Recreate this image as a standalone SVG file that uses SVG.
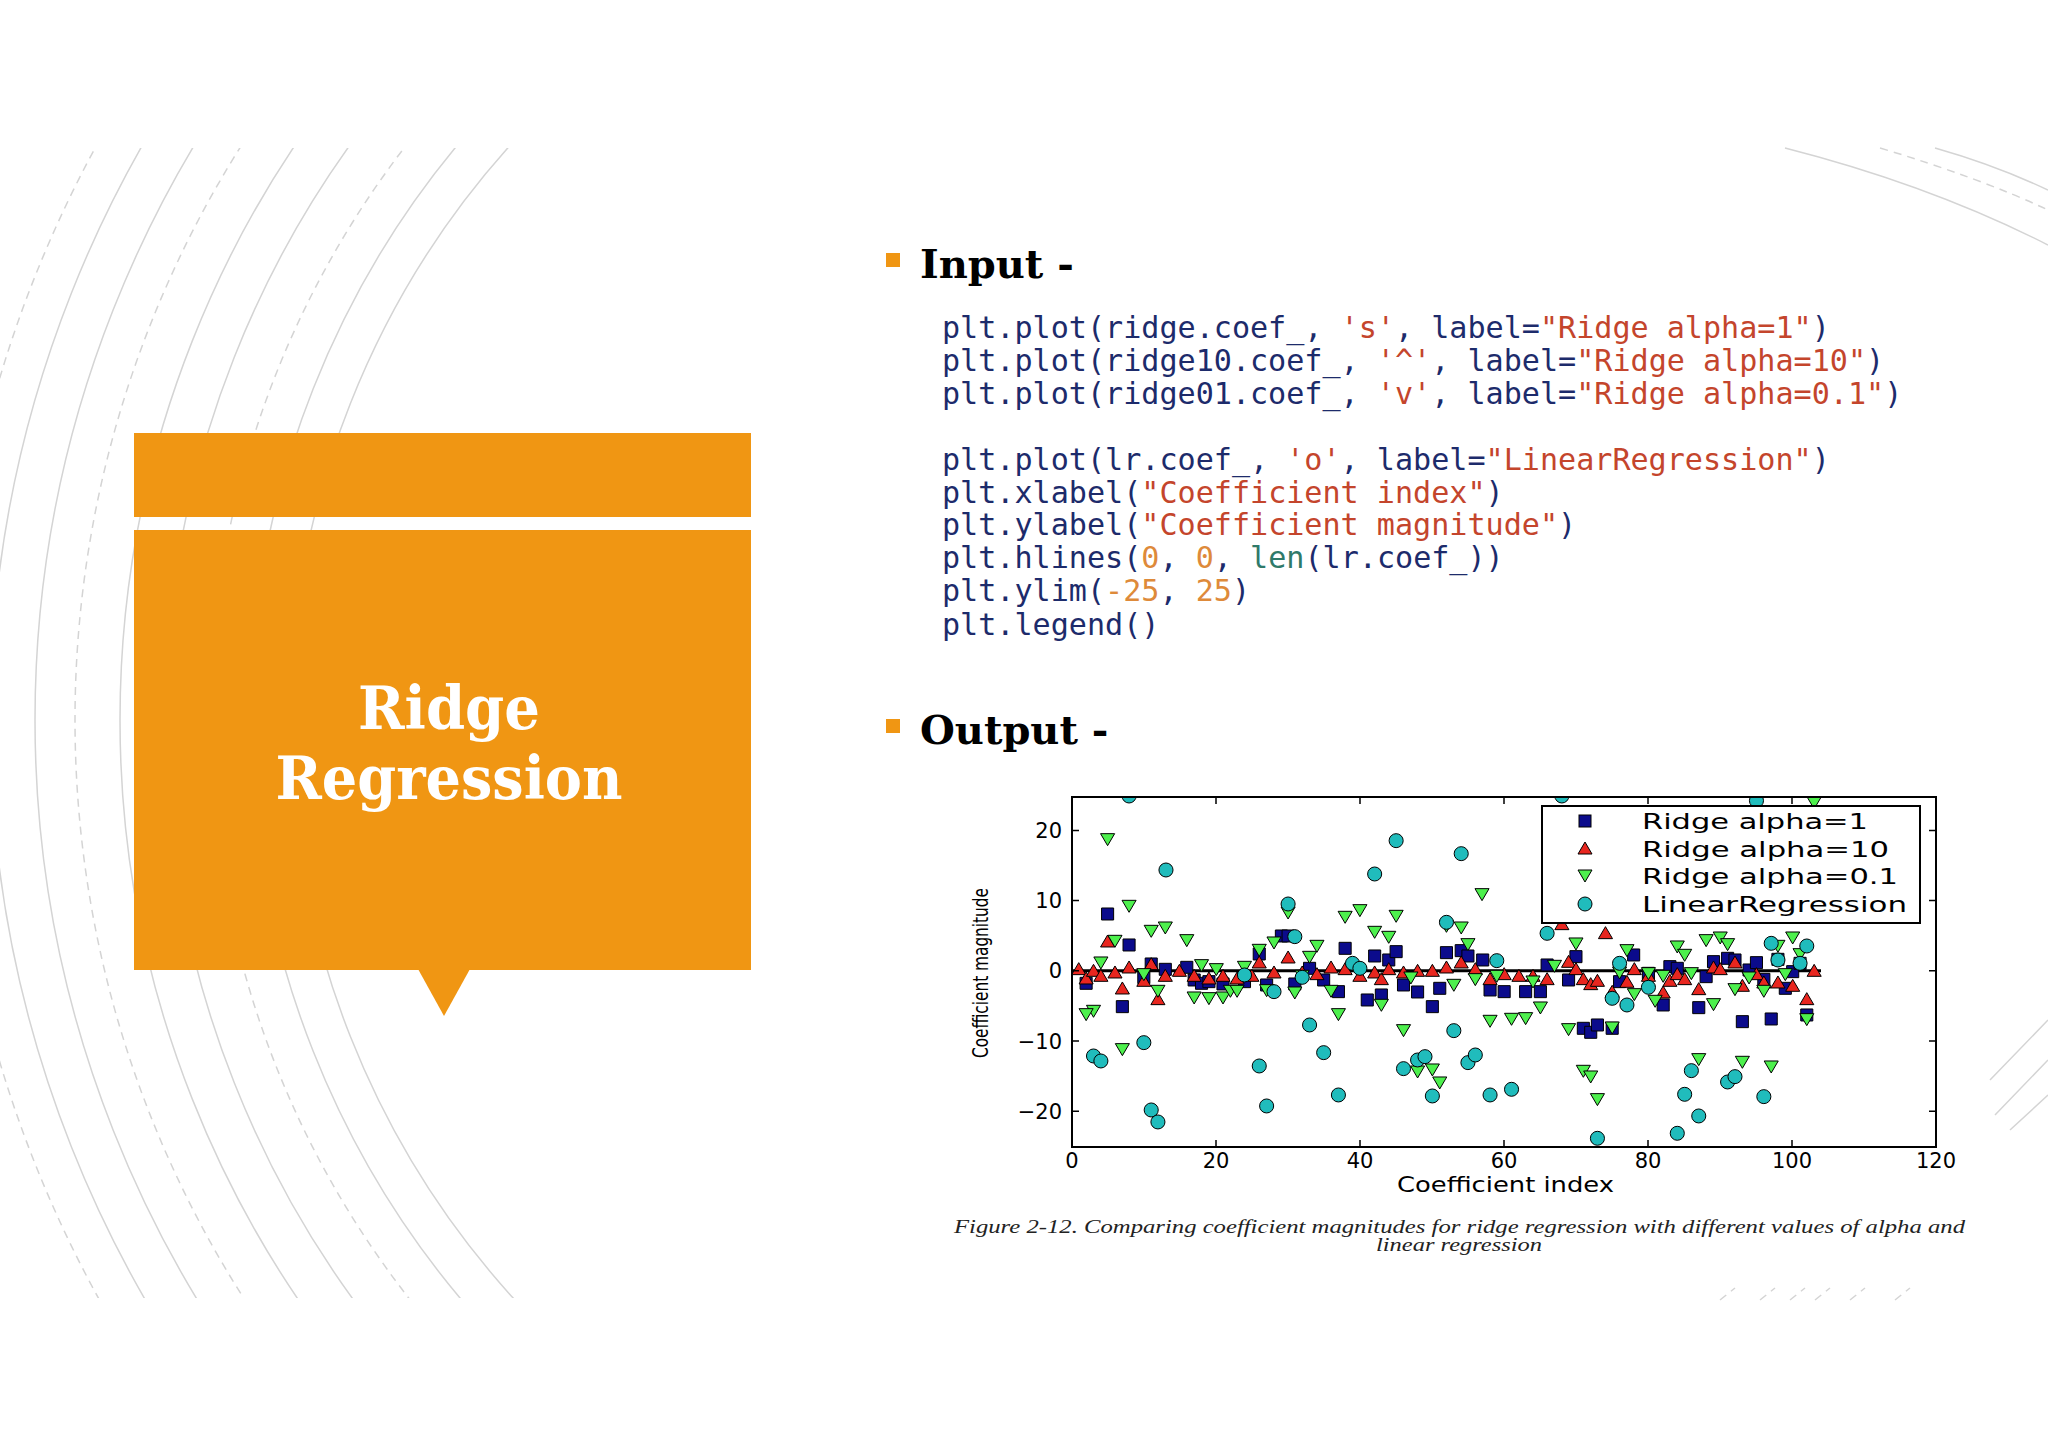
<svg xmlns="http://www.w3.org/2000/svg" xmlns:xlink="http://www.w3.org/1999/xlink" width="2048" height="1448" viewBox="0 0 2048 1448">
<style>
.arc{fill:none;stroke:#d4d4d4;stroke-width:1.5}
.dash{stroke-dasharray:8 6}
.code{font-family:"DejaVu Sans Mono",monospace;font-size:30.1px;fill:#1d2b6b}
.s{fill:#c4452c}.n{fill:#de8a3a}.b{fill:#2f7a6a}
.head{font-family:"DejaVu Serif",serif;font-weight:bold;font-size:40px;fill:#000}
.tick{font-family:"DejaVu Sans",sans-serif;font-size:21px;fill:#000}
.lab{font-family:"DejaVu Sans",sans-serif;font-size:21px;fill:#000}
.mk{vector-effect:non-scaling-stroke;stroke:#000;stroke-width:1}
.sq{fill:#0b0b8c}.up{fill:#e8261f}.dn{fill:#4df04d}.ci{fill:#20bcbc}
</style>
<defs>
<rect id="sq" class="mk sq" x="-9" y="-18" width="18" height="36"/>
<polygon id="up" class="mk up" points="0,-22 10.5,14 -10.5,14"/>
<polygon id="dn" class="mk dn" points="0,22 10.5,-14 -10.5,-14"/>
<ellipse id="ci" class="mk ci" rx="10.5" ry="21"/>
<clipPath id="bgclip"><rect x="0" y="148" width="870" height="1150"/></clipPath>
<clipPath id="plotclip"><rect x="1072" y="797" width="864" height="350"/></clipPath>
</defs>
<rect width="2048" height="1448" fill="#fff"/>
<g id="background" clip-path="url(#bgclip)">
<circle class="arc" cx="1150" cy="720" r="860"/>
<circle class="arc" cx="1150" cy="720" r="900"/>
<circle class="arc dash" cx="1150" cy="720" r="940"/>
<circle class="arc" cx="1150" cy="720" r="985"/>
<circle class="arc" cx="1150" cy="720" r="1030"/>
<circle class="arc dash" cx="1150" cy="720" r="1075"/>
<circle class="arc" cx="1150" cy="720" r="1115"/>
<circle class="arc" cx="1150" cy="720" r="1160"/>
<circle class="arc dash" cx="1150" cy="720" r="1200"/>
</g>
<g id="corner">
<path class="arc" d="M1785 148 Q1930 185 2048 245"/>
<path class="arc dash" d="M1880 148 Q1980 178 2048 210"/>
<path class="arc" d="M1935 148 Q1995 165 2048 190"/>
<path class="arc" d="M1990 1080 L2048 1020 M1995 1115 L2048 1060 M2010 1130 L2048 1095"/>
<path class="arc dash" d="M1720 1300 L1735 1288 M1760 1300 L1775 1288 M1790 1300 L1805 1288 M1815 1300 L1830 1288 M1850 1300 L1865 1288 M1895 1300 L1910 1288"/>
</g>
<g id="title-box">
<rect x="134" y="433" width="617" height="84" fill="#f09613"/>
<rect x="134" y="530" width="617" height="440" fill="#f09613"/>
<polygon points="418,969 470,969 444,1016" fill="#f09613"/>
<text x="449" y="729" text-anchor="middle" font-family="DejaVu Serif,serif" font-weight="bold" font-size="60" fill="#fff" textLength="182" lengthAdjust="spacingAndGlyphs">Ridge</text>
<text x="449" y="799" text-anchor="middle" font-family="DejaVu Serif,serif" font-weight="bold" font-size="60" fill="#fff" textLength="347" lengthAdjust="spacingAndGlyphs">Regression</text>
</g>
<g id="input">
<rect x="886" y="253" width="14" height="14" fill="#f09613"/>
<text class="head" x="920" y="278">Input -</text>
<text class="code" x="942" y="338">plt.plot(ridge.coef_, <tspan class="s">'s'</tspan>, label=<tspan class="s">"Ridge alpha=1"</tspan>)</text>
<text class="code" x="942" y="371">plt.plot(ridge10.coef_, <tspan class="s">'^'</tspan>, label=<tspan class="s">"Ridge alpha=10"</tspan>)</text>
<text class="code" x="942" y="404">plt.plot(ridge01.coef_, <tspan class="s">'v'</tspan>, label=<tspan class="s">"Ridge alpha=0.1"</tspan>)</text>
<text class="code" x="942" y="470">plt.plot(lr.coef_, <tspan class="s">'o'</tspan>, label=<tspan class="s">"LinearRegression"</tspan>)</text>
<text class="code" x="942" y="503">plt.xlabel(<tspan class="s">"Coefficient index"</tspan>)</text>
<text class="code" x="942" y="535">plt.ylabel(<tspan class="s">"Coefficient magnitude"</tspan>)</text>
<text class="code" x="942" y="568">plt.hlines(<tspan class="n">0</tspan>, <tspan class="n">0</tspan>, <tspan class="b">len</tspan>(lr.coef_))</text>
<text class="code" x="942" y="601">plt.ylim(<tspan class="n">-25</tspan>, <tspan class="n">25</tspan>)</text>
<text class="code" x="942" y="635">plt.legend()</text>
</g>
<g id="output">
<rect x="886" y="719" width="14" height="14" fill="#f09613"/>
<text class="head" x="920" y="744">Output -</text>
</g>
<g id="plot">
<g clip-path="url(#plotclip)">
<line x1="1072" y1="970.8" x2="1821" y2="970.8" stroke="#000" stroke-width="3"/>
<g transform="matrix(0.671,0,0,0.3333,947.9,780)">
<g id="s1">
<use href="#sq" x="238" y="402"/><use href="#sq" x="270" y="495"/><use href="#sq" x="260" y="680"/><use href="#sq" x="292" y="593"/><use href="#sq" x="303" y="552"/><use href="#sq" x="206" y="610"/><use href="#sq" x="324" y="568"/><use href="#sq" x="356" y="562"/><use href="#sq" x="367" y="600"/><use href="#sq" x="378" y="610"/><use href="#sq" x="389" y="605"/><use href="#sq" x="410" y="612"/><use href="#sq" x="442" y="605"/><use href="#sq" x="464" y="522"/><use href="#sq" x="475" y="615"/><use href="#sq" x="497" y="468"/><use href="#sq" x="507" y="468"/><use href="#sq" x="517" y="612"/><use href="#sq" x="539" y="565"/><use href="#sq" x="560" y="600"/><use href="#sq" x="582" y="635"/><use href="#sq" x="592" y="505"/><use href="#sq" x="625" y="660"/><use href="#sq" x="636" y="528"/><use href="#sq" x="646" y="645"/><use href="#sq" x="657" y="540"/><use href="#sq" x="668" y="515"/><use href="#sq" x="679" y="615"/><use href="#sq" x="700" y="636"/><use href="#sq" x="722" y="680"/><use href="#sq" x="733" y="625"/><use href="#sq" x="743" y="518"/><use href="#sq" x="765" y="512"/><use href="#sq" x="775" y="528"/><use href="#sq" x="797" y="540"/><use href="#sq" x="808" y="630"/><use href="#sq" x="829" y="635"/><use href="#sq" x="861" y="635"/><use href="#sq" x="883" y="635"/><use href="#sq" x="893" y="555"/><use href="#sq" x="925" y="600"/><use href="#sq" x="936" y="530"/><use href="#sq" x="947" y="745"/><use href="#sq" x="958" y="757"/><use href="#sq" x="968" y="735"/><use href="#sq" x="990" y="745"/><use href="#sq" x="1001" y="605"/><use href="#sq" x="1022" y="525"/><use href="#sq" x="1044" y="580"/><use href="#sq" x="1066" y="675"/><use href="#sq" x="1076" y="560"/><use href="#sq" x="1087" y="565"/><use href="#sq" x="1119" y="683"/><use href="#sq" x="1130" y="590"/><use href="#sq" x="1141" y="545"/><use href="#sq" x="1162" y="535"/><use href="#sq" x="1173" y="540"/><use href="#sq" x="1184" y="725"/><use href="#sq" x="1194" y="570"/><use href="#sq" x="1205" y="548"/><use href="#sq" x="1216" y="598"/><use href="#sq" x="1227" y="717"/><use href="#sq" x="1237" y="538"/><use href="#sq" x="1248" y="625"/><use href="#sq" x="1259" y="575"/><use href="#sq" x="1270" y="550"/><use href="#sq" x="1280" y="705"/>
</g>
<g id="s10">
<use href="#up" x="195" y="570"/><use href="#up" x="206" y="598"/><use href="#up" x="217" y="575"/><use href="#up" x="228" y="590"/><use href="#up" x="238" y="487"/><use href="#up" x="249" y="580"/><use href="#up" x="260" y="628"/><use href="#up" x="270" y="565"/><use href="#up" x="292" y="605"/><use href="#up" x="303" y="555"/><use href="#up" x="313" y="660"/><use href="#up" x="324" y="590"/><use href="#up" x="345" y="575"/><use href="#up" x="367" y="590"/><use href="#up" x="389" y="598"/><use href="#up" x="410" y="590"/><use href="#up" x="431" y="598"/><use href="#up" x="453" y="590"/><use href="#up" x="464" y="550"/><use href="#up" x="486" y="580"/><use href="#up" x="507" y="535"/><use href="#up" x="528" y="580"/><use href="#up" x="550" y="585"/><use href="#up" x="571" y="565"/><use href="#up" x="592" y="570"/><use href="#up" x="614" y="590"/><use href="#up" x="636" y="580"/><use href="#up" x="646" y="600"/><use href="#up" x="657" y="570"/><use href="#up" x="679" y="580"/><use href="#up" x="700" y="575"/><use href="#up" x="722" y="575"/><use href="#up" x="743" y="565"/><use href="#up" x="765" y="550"/><use href="#up" x="786" y="570"/><use href="#up" x="808" y="600"/><use href="#up" x="829" y="585"/><use href="#up" x="851" y="590"/><use href="#up" x="872" y="590"/><use href="#up" x="893" y="600"/><use href="#up" x="915" y="435"/><use href="#up" x="925" y="548"/><use href="#up" x="936" y="570"/><use href="#up" x="947" y="600"/><use href="#up" x="958" y="615"/><use href="#up" x="968" y="605"/><use href="#up" x="980" y="462"/><use href="#up" x="990" y="638"/><use href="#up" x="1012" y="608"/><use href="#up" x="1023" y="570"/><use href="#up" x="1044" y="590"/><use href="#up" x="1066" y="640"/><use href="#up" x="1076" y="605"/><use href="#up" x="1087" y="585"/><use href="#up" x="1098" y="600"/><use href="#up" x="1119" y="630"/><use href="#up" x="1141" y="565"/><use href="#up" x="1151" y="570"/><use href="#up" x="1173" y="550"/><use href="#up" x="1184" y="620"/><use href="#up" x="1205" y="585"/><use href="#up" x="1216" y="610"/><use href="#up" x="1237" y="610"/><use href="#up" x="1259" y="620"/><use href="#up" x="1280" y="660"/><use href="#up" x="1291" y="575"/>
</g>
<g id="s01">
<use href="#dn" x="238" y="175"/><use href="#dn" x="270" y="375"/><use href="#dn" x="217" y="690"/><use href="#dn" x="206" y="700"/><use href="#dn" x="228" y="545"/><use href="#dn" x="249" y="480"/><use href="#dn" x="260" y="805"/><use href="#dn" x="292" y="580"/><use href="#dn" x="303" y="450"/><use href="#dn" x="313" y="630"/><use href="#dn" x="324" y="440"/><use href="#dn" x="356" y="478"/><use href="#dn" x="367" y="650"/><use href="#dn" x="378" y="553"/><use href="#dn" x="389" y="652"/><use href="#dn" x="400" y="565"/><use href="#dn" x="410" y="650"/><use href="#dn" x="421" y="630"/><use href="#dn" x="431" y="630"/><use href="#dn" x="442" y="558"/><use href="#dn" x="464" y="507"/><use href="#dn" x="475" y="628"/><use href="#dn" x="486" y="485"/><use href="#dn" x="507" y="395"/><use href="#dn" x="517" y="635"/><use href="#dn" x="528" y="585"/><use href="#dn" x="539" y="528"/><use href="#dn" x="550" y="495"/><use href="#dn" x="571" y="630"/><use href="#dn" x="582" y="700"/><use href="#dn" x="592" y="408"/><use href="#dn" x="614" y="388"/><use href="#dn" x="636" y="453"/><use href="#dn" x="657" y="468"/><use href="#dn" x="668" y="405"/><use href="#dn" x="646" y="672"/><use href="#dn" x="679" y="748"/><use href="#dn" x="690" y="590"/><use href="#dn" x="700" y="872"/><use href="#dn" x="722" y="866"/><use href="#dn" x="733" y="905"/><use href="#dn" x="743" y="435"/><use href="#dn" x="754" y="612"/><use href="#dn" x="765" y="440"/><use href="#dn" x="775" y="490"/><use href="#dn" x="786" y="595"/><use href="#dn" x="808" y="720"/><use href="#dn" x="818" y="585"/><use href="#dn" x="840" y="714"/><use href="#dn" x="861" y="712"/><use href="#dn" x="872" y="602"/><use href="#dn" x="883" y="680"/><use href="#dn" x="796" y="340"/><use href="#dn" x="904" y="555"/><use href="#dn" x="925" y="745"/><use href="#dn" x="936" y="488"/><use href="#dn" x="947" y="870"/><use href="#dn" x="958" y="887"/><use href="#dn" x="968" y="955"/><use href="#dn" x="990" y="740"/><use href="#dn" x="1001" y="575"/><use href="#dn" x="1012" y="508"/><use href="#dn" x="1023" y="640"/><use href="#dn" x="1044" y="577"/><use href="#dn" x="1054" y="660"/><use href="#dn" x="1066" y="585"/><use href="#dn" x="1087" y="497"/><use href="#dn" x="1098" y="522"/><use href="#dn" x="1108" y="577"/><use href="#dn" x="1119" y="835"/><use href="#dn" x="1130" y="478"/><use href="#dn" x="1141" y="670"/><use href="#dn" x="1151" y="470"/><use href="#dn" x="1162" y="490"/><use href="#dn" x="1173" y="625"/><use href="#dn" x="1184" y="843"/><use href="#dn" x="1194" y="590"/><use href="#dn" x="1216" y="630"/><use href="#dn" x="1227" y="857"/><use href="#dn" x="1237" y="495"/><use href="#dn" x="1248" y="580"/><use href="#dn" x="1259" y="470"/><use href="#dn" x="1270" y="520"/><use href="#dn" x="1280" y="715"/><use href="#dn" x="1291" y="65"/>
</g>
<g id="lr">
<use href="#ci" x="270" y="48"/><use href="#ci" x="325" y="270"/><use href="#ci" x="217" y="828"/><use href="#ci" x="228" y="843"/><use href="#ci" x="292" y="788"/><use href="#ci" x="303" y="990"/><use href="#ci" x="313" y="1026"/><use href="#ci" x="464" y="858"/><use href="#ci" x="475" y="978"/><use href="#ci" x="486" y="635"/><use href="#ci" x="507" y="372"/><use href="#ci" x="517" y="470"/><use href="#ci" x="528" y="592"/><use href="#ci" x="539" y="735"/><use href="#ci" x="442" y="585"/><use href="#ci" x="560" y="818"/><use href="#ci" x="582" y="945"/><use href="#ci" x="603" y="550"/><use href="#ci" x="614" y="565"/><use href="#ci" x="636" y="282"/><use href="#ci" x="668" y="182"/><use href="#ci" x="679" y="866"/><use href="#ci" x="700" y="840"/><use href="#ci" x="711" y="830"/><use href="#ci" x="722" y="948"/><use href="#ci" x="743" y="427"/><use href="#ci" x="754" y="752"/><use href="#ci" x="765" y="221"/><use href="#ci" x="775" y="848"/><use href="#ci" x="786" y="825"/><use href="#ci" x="808" y="945"/><use href="#ci" x="818" y="542"/><use href="#ci" x="840" y="928"/><use href="#ci" x="893" y="460"/><use href="#ci" x="915" y="48"/><use href="#ci" x="990" y="655"/><use href="#ci" x="1001" y="550"/><use href="#ci" x="1012" y="675"/><use href="#ci" x="1044" y="622"/><use href="#ci" x="968" y="1075"/><use href="#ci" x="1087" y="1060"/><use href="#ci" x="1098" y="943"/><use href="#ci" x="1108" y="872"/><use href="#ci" x="1119" y="1008"/><use href="#ci" x="1162" y="906"/><use href="#ci" x="1173" y="890"/><use href="#ci" x="1205" y="62"/><use href="#ci" x="1216" y="950"/><use href="#ci" x="1227" y="490"/><use href="#ci" x="1237" y="540"/><use href="#ci" x="1270" y="550"/><use href="#ci" x="1280" y="498"/>
</g>
</g>
</g>
<rect x="1072" y="797" width="864" height="350" fill="none" stroke="#000" stroke-width="2"/>
<g stroke="#000" stroke-width="1.5">
<path d="M1216 1147v-7M1360 1147v-7M1504 1147v-7M1648 1147v-7M1792 1147v-7M1216 797v7M1360 797v7M1504 797v7M1648 797v7M1792 797v7"/>
<path d="M1072 830.4h7M1072 900.6h7M1072 970.8h7M1072 1041h7M1072 1111.2h7M1936 830.4h-7M1936 900.6h-7M1936 970.8h-7M1936 1041h-7M1936 1111.2h-7"/>
</g>
<g class="tick" text-anchor="end">
<text x="1062" y="838">20</text><text x="1062" y="908">10</text><text x="1062" y="978">0</text><text x="1062" y="1049">−10</text><text x="1062" y="1119">−20</text>
</g>
<g class="tick" text-anchor="middle">
<text x="1072" y="1168">0</text><text x="1216" y="1168">20</text><text x="1360" y="1168">40</text><text x="1504" y="1168">60</text><text x="1648" y="1168">80</text><text x="1792" y="1168">100</text><text x="1936" y="1168">120</text>
</g>
<text class="lab" x="1397" y="1192" textLength="217" lengthAdjust="spacingAndGlyphs">Coefficient index</text>
<text class="lab" transform="translate(988,1058) rotate(-90)" textLength="170" lengthAdjust="spacingAndGlyphs">Coefficient magnitude</text>
<g id="legend">
<rect x="1542" y="806" width="378" height="117" fill="#fff" stroke="#000" stroke-width="2"/>
<rect class="sq" x="1579" y="815" width="12" height="12" stroke="#000"/>
<polygon class="up" points="1585,842 1592,854 1578,854" stroke="#000"/>
<polygon class="dn" points="1585,882 1592,870 1578,870" stroke="#000"/>
<circle class="ci" cx="1585" cy="904" r="7" stroke="#000"/>
<g class="tick" font-size="22">
<text x="1642" y="829" textLength="226" lengthAdjust="spacingAndGlyphs">Ridge alpha=1</text>
<text x="1642" y="857" textLength="247" lengthAdjust="spacingAndGlyphs">Ridge alpha=10</text>
<text x="1642" y="884" textLength="256" lengthAdjust="spacingAndGlyphs">Ridge alpha=0.1</text>
<text x="1642" y="912" textLength="265" lengthAdjust="spacingAndGlyphs">LinearRegression</text>
</g>
</g>
<g font-family="Liberation Serif,serif" font-style="italic" font-size="19" fill="#222">
<text x="954" y="1233" textLength="1011" lengthAdjust="spacingAndGlyphs">Figure 2-12. Comparing coefficient magnitudes for ridge regression with different values of alpha and</text>
<text x="1376" y="1251" textLength="166" lengthAdjust="spacingAndGlyphs">linear regression</text>
</g>
</g>
</svg>
